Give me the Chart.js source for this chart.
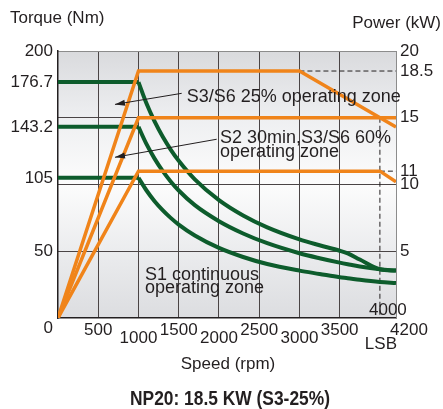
<!DOCTYPE html>
<html>
<head>
<meta charset="utf-8">
<title>NP20 torque / power</title>
<script src="https://cdn.jsdelivr.net/npm/chart.js@4.4.1/dist/chart.umd.min.js"></script>
<style>
    html, body { margin: 0; padding: 0; background: #fff; }
    #npChart { display: block; }
</style>
</head>
<body>
<canvas id="npChart" width="443" height="409"></canvas>
<script>
// axis ticks
var speedTicks = [0, 500, 1000, 1500, 2000, 2500, 3000, 3500, 4000, 4200];
var speedLabels = ['', '500', '1000', '1500', '2000', '2500', '3000', '3500', '', ''];
var speedLowRow = [1000, 2000, 3000];
var torqueTicks = [0, 50, 105, 143.2, 176.7, 200];
var powerTicks = [5, 10, 11, 15, 18.5, 20];

// torque (Nm), constant part and field weakening part
var flatSpeed = [0, 1000];
var curveSpeed = [1000, 1100, 1200, 1300, 1400, 1500, 1700, 2000, 2300, 2600, 3000, 3250, 3500, 3600, 3750, 4000, 4200];
var torqueS3_25Flat = [176.7, 176.7];
var torqueS3_25 = [176.7, 160.6, 147.2, 135.9, 126.2, 117.8, 103.9, 88.3, 76.8, 67.9, 58.9, 54.5, 50.4, 48.4, 43.8, 36.5, 35.5];
var torqueS2Flat = [143.2, 143.2];
var torqueS2 = [143.2, 130.2, 119.4, 110.2, 102.3, 95.5, 84.5, 72.5, 63.3, 56, 48.5, 44.8, 41.5, 40.3, 38.6, 36.5, 35.5];
var torqueS1Flat = [105, 105];
var torqueS1 = [105, 95.5, 87.5, 80.8, 75, 70, 61.8, 52.5, 45.7, 40.4, 35.5, 33, 30.5, 29.8, 28.6, 27, 26.2];

// power (kW)
var powerS3_25Speed = [0, 1000, 3000, 4200];
var powerS3_25 = [0, 18.5, 18.5, 14.3];
var powerS2Speed = [0, 1000, 4200];
var powerS2 = [0, 15, 15];
var powerS1Speed = [0, 1000, 4000, 4200];
var powerS1 = [0, 11, 11, 10.2];

// dashed guides
var guideTopSpeed = [3000, 4200];
var guideTopPower = [18.5, 18.5];
var guideLsbSpeed = [4000, 4000];
var guideLsbPower = [15, 0];
var guideS1Speed = [4000, 4200];
var guideS1Power = [11, 11];

var FONT = '"Liberation Sans", Arial, sans-serif';
var INK = '#231f20';
var ORANGE = '#f0841a';
var GREEN = '#0d5c2c';

function pts(xs, ys) {
    return xs.map(function(x, i) { return { x: x, y: ys[i] }; });
}

function powerLine(xs, ys) {
    return { data: pts(xs, ys), yAxisID: 'y1', borderColor: ORANGE, borderWidth: 3.5, tension: 0 };
}
function torqueLine(xs, ys, curved) {
    return {
        data: pts(xs, ys), yAxisID: 'y', borderColor: GREEN, borderWidth: 4,
        cubicInterpolationMode: curved ? 'monotone' : 'default', tension: 0
    };
}
function guideLine(xs, ys) {
    return { data: pts(xs, ys), yAxisID: 'y1', borderColor: INK, borderWidth: 1, borderDash: [5, 3], tension: 0 };
}

// zone labels and arrows, anchored in speed / torque units
var zoneNotes = [
    { text: 'S3/S6 25% operating zone', x: 1599, y: 162 },
    { text: 'S2 30min,S3/S6 60%', x: 2013, y: 131.3 },
    { text: 'operating zone', x: 2013, y: 120.6 },
    { text: 'S1 continuous', x: 1081, y: 28.5 },
    { text: 'operating zone', x: 1081, y: 18.5 }
];
var zoneArrows = [
    { from: [1537, 168.3], to: [708, 160] },
    { from: [1972, 133.9], to: [708, 120.4] }
];

var plotBackground = {
    id: 'plotBackground',
    beforeDraw: function(chart) {
        var a = chart.chartArea, ctx = chart.ctx;
        var g = ctx.createLinearGradient(0, a.top, 0, a.bottom);
        g.addColorStop(0, '#d9dadd');
        g.addColorStop(0.25, '#eeeff1');
        g.addColorStop(0.5, '#fcfcfc');
        g.addColorStop(0.75, '#ebecee');
        g.addColorStop(1, '#dcdde0');
        ctx.save();
        ctx.fillStyle = g;
        ctx.fillRect(a.left, a.top, a.right - a.left, a.bottom - a.top);
        ctx.restore();
    }
};

var chartTexts = {
    id: 'chartTexts',
    afterDraw: function(chart) {
        var ctx = chart.ctx, xs = chart.scales.x, ys = chart.scales.y;
        ctx.save();
        ctx.fillStyle = INK;
        ctx.strokeStyle = INK;

        // axis titles
        ctx.font = '17px ' + FONT;
        ctx.textBaseline = 'middle';
        ctx.textAlign = 'left';
        ctx.fillText('Torque (Nm)', 10, 18);
        ctx.textAlign = 'right';
        ctx.fillText('Power (kW)', 441, 23);
        ctx.textAlign = 'center';
        ctx.fillText('Speed (rpm)', 228, 364);

        // odd speed labels
        ctx.fillText('4000', xs.getPixelForValue(4000) + 8, 310);
        ctx.fillText('LSB', xs.getPixelForValue(4000) + 1, 344);
        ctx.fillText('4200', xs.getPixelForValue(4200) + 13, 330);

        // zone notes
        ctx.font = '18px ' + FONT;
        ctx.textAlign = 'left';
        ctx.textBaseline = 'alphabetic';
        zoneNotes.forEach(function(n) {
            ctx.fillText(n.text, xs.getPixelForValue(n.x), ys.getPixelForValue(n.y));
        });

        ctx.lineWidth = 1;
        zoneArrows.forEach(function(ar) {
            var x0 = xs.getPixelForValue(ar.from[0]), y0 = ys.getPixelForValue(ar.from[1]);
            var x1 = xs.getPixelForValue(ar.to[0]), y1 = ys.getPixelForValue(ar.to[1]);
            var ang = Math.atan2(y1 - y0, x1 - x0);
            ctx.beginPath();
            ctx.moveTo(x0, y0);
            ctx.lineTo(x1, y1);
            ctx.stroke();
            ctx.beginPath();
            ctx.moveTo(x1, y1);
            ctx.lineTo(x1 - 10 * Math.cos(ang) + 3 * Math.sin(ang), y1 - 10 * Math.sin(ang) - 3 * Math.cos(ang));
            ctx.lineTo(x1 - 10 * Math.cos(ang) - 3 * Math.sin(ang), y1 - 10 * Math.sin(ang) + 3 * Math.cos(ang));
            ctx.closePath();
            ctx.fill();
        });

        // model caption, squeezed to the reference width
        var caption = 'NP20: 18.5 KW (S3-25%)';
        ctx.font = 'bold 20px "Liberation Sans Narrow", ' + FONT;
        ctx.textAlign = 'center';
        ctx.textBaseline = 'middle';
        var w = ctx.measureText(caption).width;
        ctx.translate(230, 399);
        ctx.scale(200 / w, 1);
        ctx.fillText(caption, 0, 0);
        ctx.restore();
    }
};

var ctx = document.getElementById('npChart').getContext('2d');
var npChart = new Chart(ctx, {
    type: 'line',
    data: {
        datasets: [
            powerLine(powerS3_25Speed, powerS3_25),
            powerLine(powerS2Speed, powerS2),
            powerLine(powerS1Speed, powerS1),
            torqueLine(flatSpeed, torqueS3_25Flat, false),
            torqueLine(curveSpeed, torqueS3_25, true),
            torqueLine(flatSpeed, torqueS2Flat, false),
            torqueLine(curveSpeed, torqueS2, true),
            torqueLine(flatSpeed, torqueS1Flat, false),
            torqueLine(curveSpeed, torqueS1, true),
            guideLine(guideTopSpeed, guideTopPower),
            guideLine(guideLsbSpeed, guideLsbPower),
            guideLine(guideS1Speed, guideS1Power)
        ]
    },
    options: {
        responsive: false,
        animation: false,
        devicePixelRatio: 1,
        layout: { padding: { top: 51, left: 0, right: 0, bottom: 0 } },
        elements: { point: { radius: 0, hoverRadius: 0 }, line: { borderCapStyle: 'butt' } },
        plugins: { legend: { display: false }, tooltip: { enabled: false }, title: { display: false } },
        scales: {
            x: {
                type: 'linear', min: 0, max: 4200,
                afterBuildTicks: function(s) { s.ticks = speedTicks.map(function(v) { return { value: v }; }); },
                afterFit: function(s) { s.height = 91; },
                ticks: {
                    autoSkip: false, maxRotation: 0, padding: 8, color: INK,
                    font: { family: FONT, size: 17, lineHeight: '8px' },
                    callback: function(v) {
                        var label = speedLabels[speedTicks.indexOf(v)] || '';
                        return speedLowRow.indexOf(v) >= 0 ? ['', label] : label;
                    }
                },
                grid: {
                    drawTicks: false, lineWidth: 1,
                    color: function(c) {
                        var v = c.tick ? c.tick.value : 0;
                        return (v > 0 && v < 4000) ? '#4a4445' : 'rgba(0,0,0,0)';
                    }
                },
                border: { color: INK, width: 1.5 }
            },
            y: {
                position: 'left', min: 0, max: 200,
                afterBuildTicks: function(s) { s.ticks = torqueTicks.map(function(v) { return { value: v }; }); },
                afterFit: function(s) { s.width = 58; },
                ticks: {
                    autoSkip: false, padding: 5, color: INK,
                    font: { family: FONT, size: 17 },
                    callback: function(v) { return v === 0 ? ['', '0'] : String(v); }
                },
                grid: { display: false, drawTicks: false },
                border: { color: INK, width: 1.5 }
            },
            y1: {
                position: 'right', min: 0, max: 20,
                afterBuildTicks: function(s) { s.ticks = powerTicks.map(function(v) { return { value: v }; }); },
                afterFit: function(s) { s.width = 47; },
                ticks: {
                    autoSkip: false, padding: 4, color: INK,
                    font: { family: FONT, size: 17 }
                },
                grid: {
                    drawTicks: false, lineWidth: 1,
                    color: function(c) {
                        var v = c.tick ? c.tick.value : 0;
                        if (v === 20) return '#8c8c8c';
                        return (v === 5 || v === 10 || v === 15) ? '#4a4445' : 'rgba(0,0,0,0)';
                    }
                },
                border: { color: '#8c8c8c', width: 1 }
            }
        }
    },
    plugins: [plotBackground, chartTexts]
});
</script>
</body>
</html>
